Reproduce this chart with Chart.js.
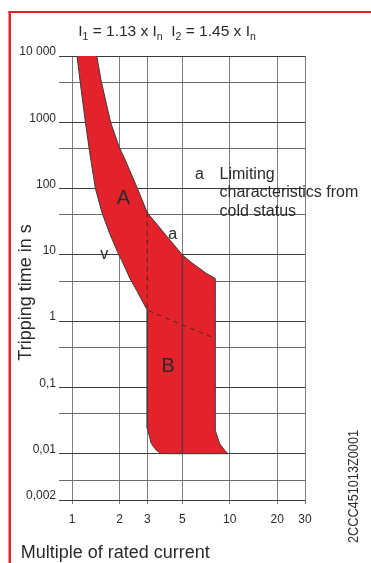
<!DOCTYPE html>
<html>
<head>
<meta charset="utf-8">
<script src="https://cdn.jsdelivr.net/npm/chart.js@4.4.0/dist/chart.umd.min.js"></script>
<style>
    html, body { margin: 0; padding: 0; background: #fff; }
    canvas { display: block; }
</style>
</head>
<body>
<canvas id="grafico" width="371" height="563"></canvas>
<script>
// eixos
var ticksX = [1, 2, 3, 5, 10, 20, 30];
var ticksY = [10000, 4000, 1000, 400, 100, 40, 10, 4, 1, 0.4, 0.1, 0.04, 0.01, 0.004, 0.002];
var rotulosY = { '10000': '10 000', '1000': '1000', '100': '100', '10': '10', '1': '1', '0.1': '0,1', '0.01': '0,01', '0.002': '0,002' };

// curva inferior (v), do topo ate 3 x In
var curvaInferiorX = [1.076, 1.125, 1.216, 1.28, 1.318, 1.408, 1.549, 1.73, 1.98, 2.064, 2.33, 2.57, 3];
var curvaInferiorY = [10000, 4200, 1000, 424, 267, 100, 43.4, 21.2, 10, 8.3, 4.4, 2.9, 1.46];

// zona magnetica B: desce em 3 x In, fundo em 0,01 s, sobe em ~8 x In
var zonaBX = [3, 3, 3.18, 3.42, 3.68, 9.75, 9.28, 8.62, 8.1, 8.1];
var zonaBY = [1.46, 0.0243, 0.01425, 0.0113, 0.01, 0.01, 0.0113, 0.01425, 0.0226, 4.39];

// curva superior (a), de ~8 x In ate o topo
var curvaSuperiorX = [8.1, 7.09, 5.69, 5, 3.94, 3, 2.6, 2.18, 1.99, 1.756, 1.531, 1.436];
var curvaSuperiorY = [4.39, 5.27, 7.7, 10, 19.8, 43.4, 100, 267, 424, 1000, 4200, 10000];

// limite a frio (tracejado)
var tracejadoX = [3, 3, 8.1];
var tracejadoY = [43.4, 1.46, 0.546];

// linha de 5 x In dentro da faixa
var linha5X = [5, 5];
var linha5Y = [10, 0.01];

var tituloPartes = [['I', false], ['1', true], [' = 1.13 x ', false], ['I', false], ['n', true], ['  ', false],
    ['I', false], ['2', true], [' = 1.45 x ', false], ['I', false], ['n', true]];

var FONTE = "'Liberation Sans', Arial, Helvetica, sans-serif";
var COR_TEXTO = '#2a2a2a';
var VERMELHO = '#e4222b';

function juntarPontos(xs, ys) {
    return xs.map(function (x, i) { return { x: x, y: ys[i] }; });
}

var faixa = juntarPontos(curvaInferiorX, curvaInferiorY)
    .concat(juntarPontos(zonaBX, zonaBY))
    .concat(juntarPontos(curvaSuperiorX, curvaSuperiorY));

var rotulosRegiao = [
    { texto: 'A', x: 2.12, y: 72, tamanho: 20 },
    { texto: 'B', x: 4.07, y: 0.207, tamanho: 20 },
    { texto: 'a', x: 4.35, y: 20, tamanho: 16 },
    { texto: 'v', x: 1.6, y: 10.2, tamanho: 16 }
];

var nota = { marca: 'a', xMarca: 6.03, xTexto: 8.62, y: 141.6, linhas: ['Limiting', 'characteristics from', 'cold status'] };

function desenharTitulo(ctx) {
    var fonteNormal = '15.5px ' + FONTE;
    var fonteSub = '10.5px ' + FONTE;
    var total = 0;

    tituloPartes.forEach(function (p) {
        ctx.font = p[1] ? fonteSub : fonteNormal;
        total += ctx.measureText(p[0]).width;
    });

    var x = 167 - total / 2;
    ctx.textAlign = 'left';
    ctx.textBaseline = 'alphabetic';

    tituloPartes.forEach(function (p) {
        ctx.font = p[1] ? fonteSub : fonteNormal;
        ctx.fillText(p[0], x, p[1] ? 40 : 36);
        x += ctx.measureText(p[0]).width;
    });
}

var pluginTextos = {
    id: 'textos',
    beforeDraw: function (chart) {
        var ctx = chart.ctx;
        ctx.save();
        ctx.fillStyle = VERMELHO;
        ctx.fillRect(8.5, 11, 2.5, 552);
        ctx.fillRect(8.5, 11, 362.5, 2);
        ctx.restore();
    },
    afterDatasetsDraw: function (chart) {
        var ctx = chart.ctx;
        var escX = chart.scales.x;
        var escY = chart.scales.y;

        ctx.save();
        ctx.fillStyle = COR_TEXTO;

        desenharTitulo(ctx);

        rotulosRegiao.forEach(function (r) {
            ctx.font = r.tamanho + 'px ' + FONTE;
            ctx.textAlign = 'center';
            ctx.textBaseline = 'middle';
            ctx.fillText(r.texto, escX.getPixelForValue(r.x), escY.getPixelForValue(r.y));
        });

        ctx.font = '16px ' + FONTE;
        ctx.textAlign = 'left';
        ctx.textBaseline = 'alphabetic';
        var yBase = escY.getPixelForValue(nota.y);
        ctx.fillText(nota.marca, escX.getPixelForValue(nota.xMarca), yBase);
        nota.linhas.forEach(function (linha, i) {
            ctx.fillText(linha, escX.getPixelForValue(nota.xTexto), yBase + i * 18.5);
        });

        // titulos dos eixos
        ctx.font = '18px ' + FONTE;
        ctx.textAlign = 'left';
        ctx.fillText('Multiple of rated current', 20.7, 558);

        ctx.save();
        ctx.translate(31, 292.5);
        ctx.rotate(-Math.PI / 2);
        ctx.textAlign = 'center';
        ctx.fillText('Tripping time in s', 0, 0);
        ctx.restore();

        ctx.save();
        ctx.translate(358, 486.5);
        ctx.rotate(-Math.PI / 2);
        ctx.scale(0.82, 1);
        ctx.font = '15.5px ' + FONTE;
        ctx.textAlign = 'center';
        ctx.fillText('2CCC451013Z0001', 0, 0);
        ctx.restore();

        ctx.restore();
    }
};

Chart.defaults.font.family = FONTE;

var grafico = new Chart(document.getElementById('grafico'), {
    type: 'scatter',
    data: {
        datasets: [
            {
                label: '5 x In',
                data: juntarPontos(linha5X, linha5Y),
                showLine: true,
                borderColor: '#4a3a3a',
                borderWidth: 1.2,
                pointRadius: 0,
                order: 1
            },
            {
                label: 'Limite a frio',
                data: juntarPontos(tracejadoX, tracejadoY),
                showLine: true,
                borderColor: '#4a2626',
                borderWidth: 1,
                borderDash: [5, 4],
                pointRadius: 0,
                order: 1
            },
            {
                label: 'Faixa de disparo',
                data: faixa,
                showLine: true,
                fill: 'shape',
                tension: 0,
                backgroundColor: VERMELHO,
                borderColor: '#3a3a3a',
                borderWidth: 1,
                pointRadius: 0,
                order: 2
            }
        ]
    },
    options: {
        responsive: false,
        animation: false,
        layout: { padding: { left: 0, right: 66, top: 56, bottom: 0 } },
        plugins: {
            legend: { display: false },
            tooltip: { enabled: false }
        },
        scales: {
            x: {
                type: 'logarithmic',
                min: 1,
                max: 30,
                afterBuildTicks: function (escala) {
                    escala.ticks = ticksX.map(function (v) { return { value: v }; });
                },
                afterFit: function (escala) {
                    escala.height = 63;
                },
                ticks: {
                    autoSkip: false,
                    maxRotation: 0,
                    padding: 8,
                    color: COR_TEXTO,
                    font: { size: 12 },
                    callback: function (v) { return String(v); }
                },
                grid: { color: '#7c7c7c', lineWidth: 1, tickLength: 4 },
                border: { display: false }
            },
            y: {
                type: 'logarithmic',
                min: 0.002,
                max: 10000,
                afterBuildTicks: function (escala) {
                    escala.ticks = ticksY.map(function (v) { return { value: v }; });
                },
                afterFit: function (escala) {
                    escala.width = 72;
                },
                ticks: {
                    autoSkip: false,
                    padding: 3,
                    labelOffset: -4,
                    color: COR_TEXTO,
                    font: { size: 12 },
                    callback: function (v) { return rotulosY[String(v)] || ''; }
                },
                grid: {
                    lineWidth: 1,
                    tickLength: 13,
                    color: function (c) {
                        return rotulosY[String(c.tick && c.tick.value)] ? '#3c3c3c' : '#6c6c6c';
                    }
                },
                border: { display: false }
            }
        }
    },
    plugins: [pluginTextos]
});
</script>
</body>
</html>
